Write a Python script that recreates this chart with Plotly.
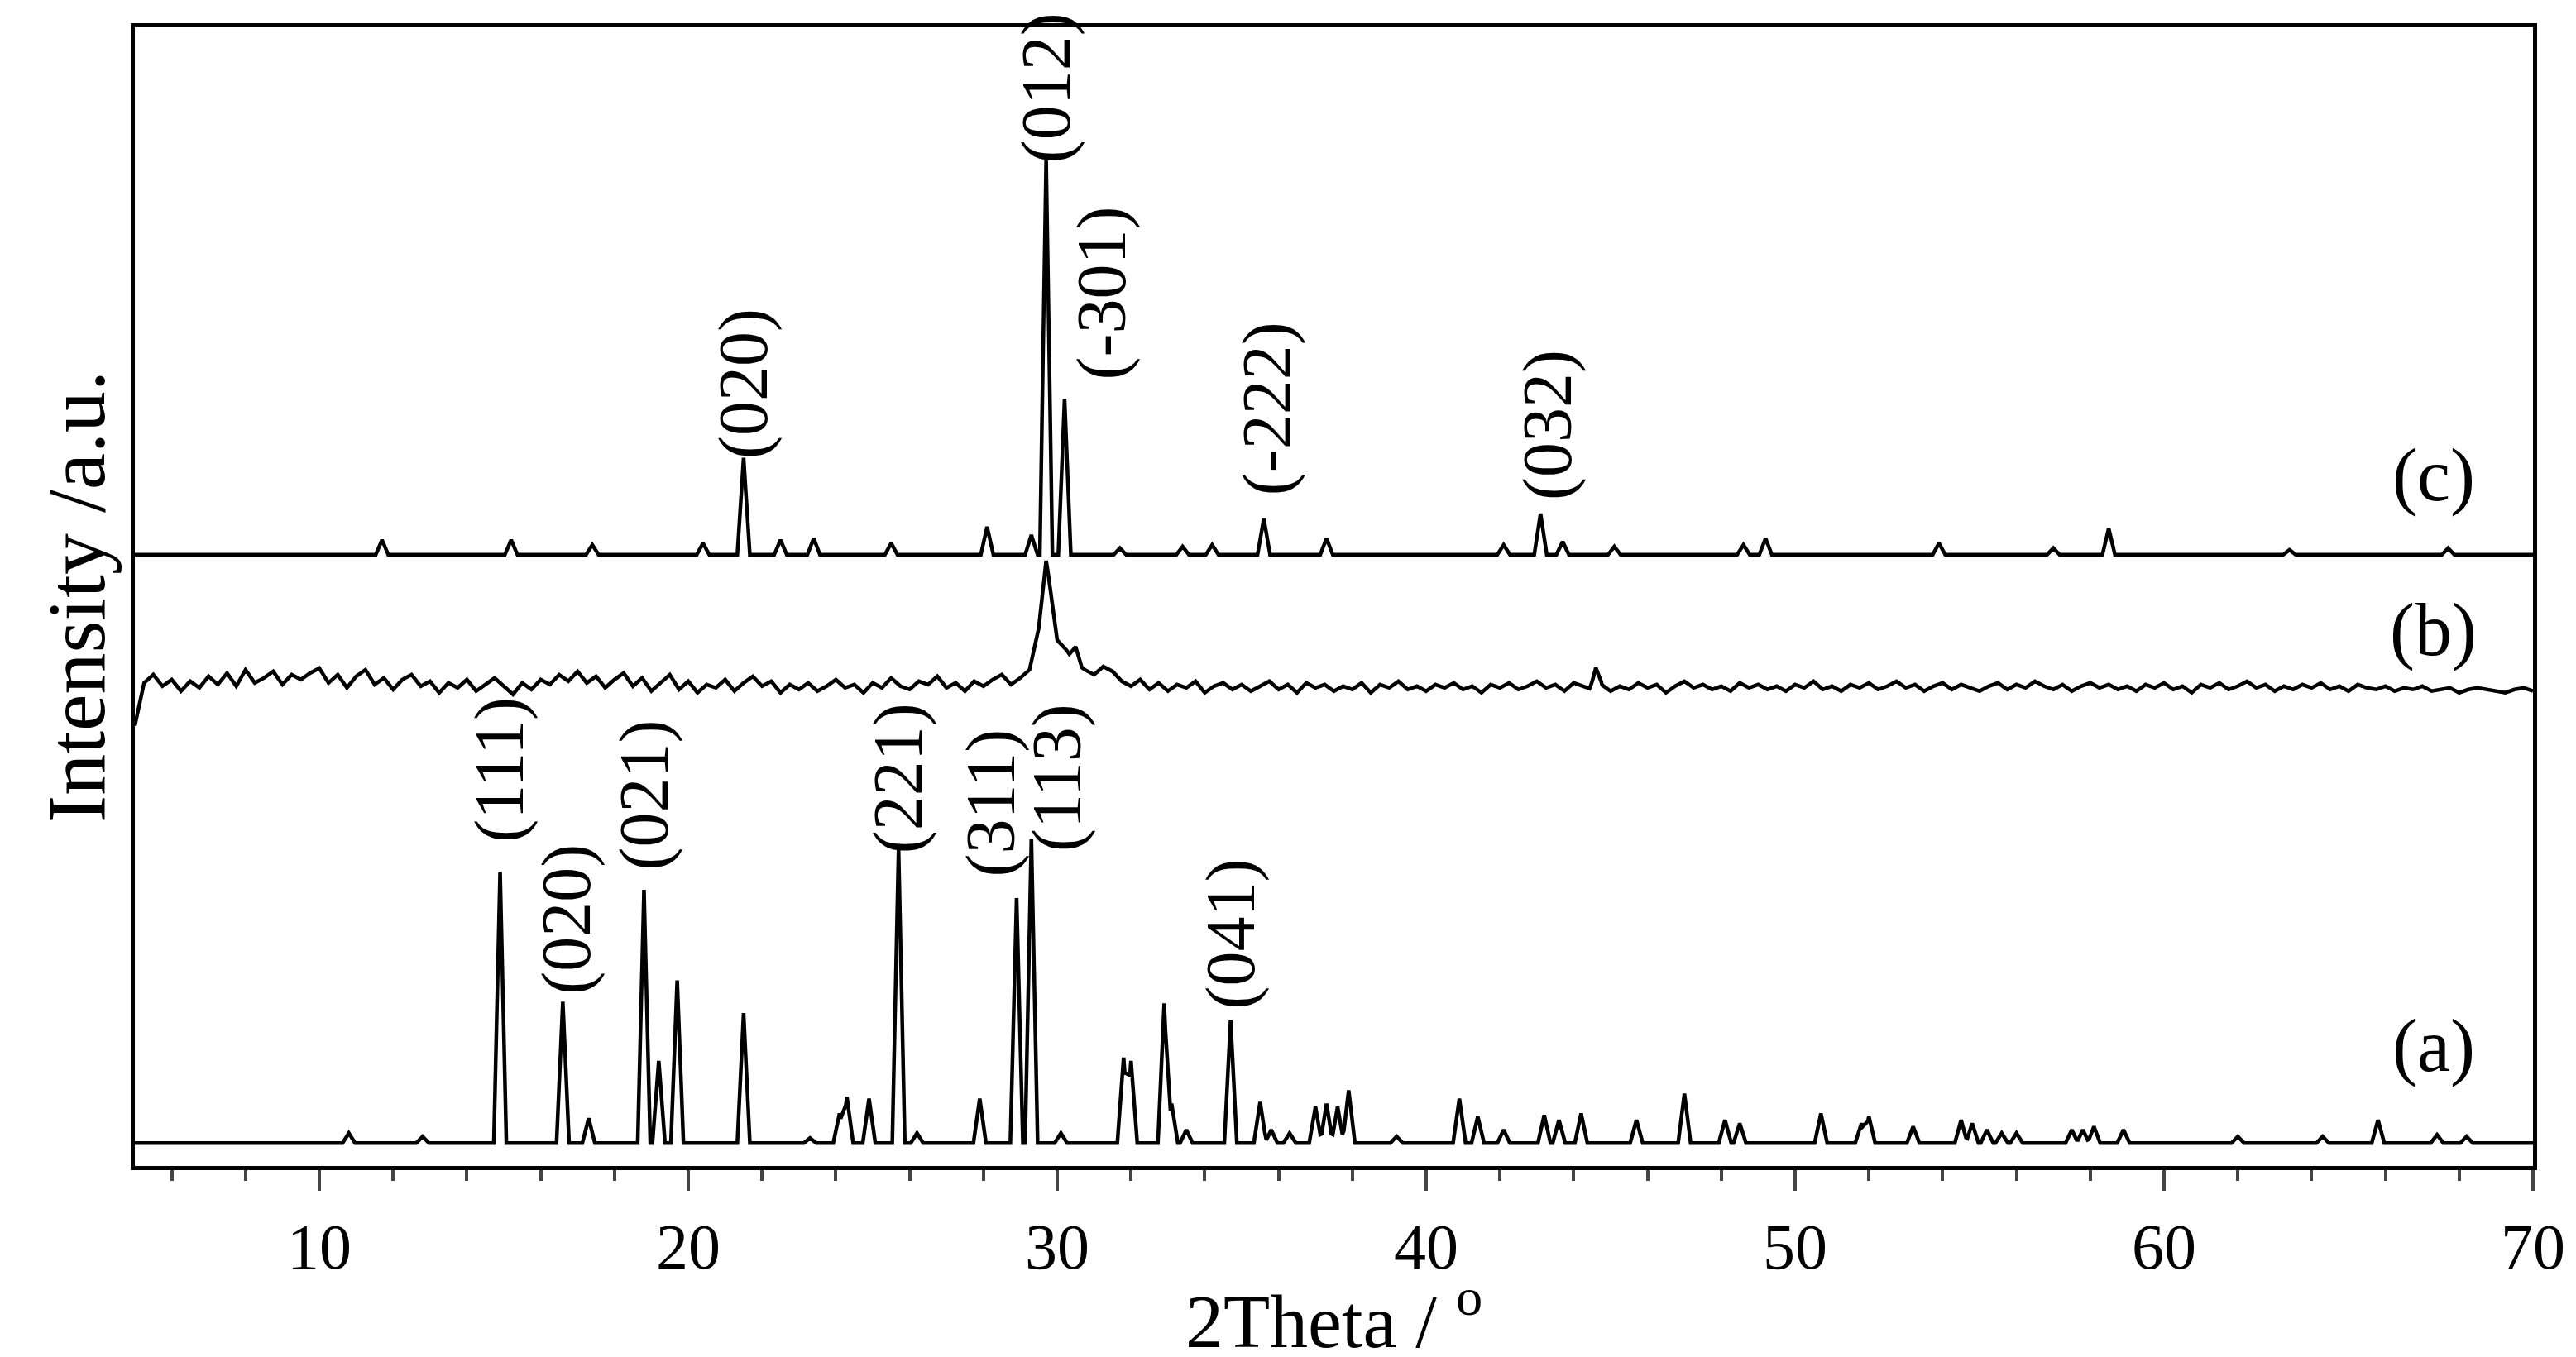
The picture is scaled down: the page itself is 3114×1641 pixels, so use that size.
import numpy as np
import plotly.graph_objects as go

# peak lists: (2theta, height above baseline)
peaks_a = [(10.8, 6), (12.8, 4), (14.9, 165), (16.6, 86), (17.3, 15), (18.8, 154),
           (19.2, 50), (19.7, 99), (21.5, 79), (23.3, 3), (24.1, 18), (24.3, 28),
           (24.9, 27), (25.7, 179), (26.2, 6), (27.9, 27), (28.9, 149), (29.3, 185),
           (30.1, 6), (31.8, 52), (32.0, 50), (32.9, 85), (33.1, 24), (33.5, 8),
           (34.7, 75), (35.5, 25), (35.8, 8), (36.3, 6), (37.0, 22), (37.3, 24),
           (37.6, 22), (37.9, 32), (39.2, 4), (40.9, 27), (41.4, 16), (42.1, 8),
           (43.2, 17), (43.6, 14), (44.2, 18), (45.7, 14), (47.0, 30), (48.1, 14),
           (48.5, 12), (50.7, 18), (51.8, 12), (52.0, 16), (53.2, 10), (54.5, 14),
           (54.8, 12), (55.2, 8), (55.6, 6), (56.0, 6), (57.5, 8), (57.8, 8),
           (58.1, 10), (58.9, 8), (62.0, 4), (64.3, 4), (65.8, 14), (67.4, 5), (68.2, 4)]
peaks_b = [(29.7, 52), (30.5, 10), (44.6, 12)]
peaks_c = [(11.7, 9), (15.2, 9), (17.4, 6), (20.4, 7), (21.5, 59), (22.5, 9),
           (23.4, 10), (25.5, 7), (28.1, 17), (29.3, 12), (29.7, 240), (30.2, 95),
           (31.7, 4), (33.4, 5), (34.2, 6), (35.6, 22), (37.3, 10), (42.1, 6),
           (43.1, 25), (43.7, 8), (45.1, 5), (48.6, 6), (49.2, 10), (53.9, 7),
           (57.0, 4), (58.5, 16), (63.4, 3), (67.7, 4)]

offset_a, offset_b, offset_c = 14, 290, 372

# background of pattern (b), every 0.25 deg from 5 to 70
noise_x = np.arange(5.0, 70.01, 0.25)
noise_b = [-22, 4, 9, 2, 6, -1, 5, 1, 8, 3, 10, 2, 12, 4, 7, 11, 3, 9, 6, 10,
           13, 4, 9, 1, 8, 12, 3, 7, 0, 6, 9, 2, 5, -2, 4, 1, 6, -1, 3, 7,
           2, -3, 4, 0, 6, 3, 9, 5, 11, 4, 8, 1, 6, 10, 2, 7, -1, 4, 9, 0,
           5, -2, 3, 1, 6, -1, 4, 8, 2, 5, -2, 3, 0, 4, -1, 2, 6, 1, 3, -2,
           4, 1, 7, 2, 0, 5, 3, 8, 1, 4, -1, 5, 2, 6, 9, 3, 7, 12, 20, 28,
           30, 24, 16, 12, 9, 14, 11, 5, 2, 6, 0, 4, -1, 3, 1, 5, -2, 2, 4, 0,
           3, -1, 2, 5, 0, 3, -2, 4, 1, 3, -1, 2, 0, 4, -2, 3, 1, 5, 0, 2,
           -1, 3, 1, 4, 0, 2, -2, 3, 1, 4, 0, 2, 5, 1, 3, -1, 4, 2, 0, 3,
           -1, 2, 0, 4, 1, 3, -2, 2, 5, 1, 3, 0, 2, -1, 4, 1, 3, 0, 2, -1,
           3, 1, 5, 0, 2, -1, 3, 1, 4, 0, 2, 5, 1, 3, -1, 2, 4, 0, 3, 1,
           -1, 2, 4, 0, 3, 1, 5, 2, 0, 3, -1, 2, 4, 1, 3, 0, 2, -1, 3, 1,
           4, 0, 2, -2, 3, 1, 4, 0, 2, 5, 1, 3, -1, 2, 0, 3, 1, 4, 0, 2,
           -1, 3, 1, 0, 2, -1, 1, 0, 2, -1, 0, 1, -2, 0, 1, 0, -1, -2, 0, 1,
           -1]

labels_c = [("(020)", 21.5, 476), ("(012)", 29.7, 656), ("(-301)", 31.2, 531),
            ("(-222)", 35.7, 461), ("(032)", 43.3, 451)]
labels_a = [("(111)", 14.9, 241), ("(020)", 16.7, 150), ("(021)", 18.8, 226),
            ("(221)", 25.7, 236), ("(311)", 28.2, 221), ("(113)", 30.0, 236),
            ("(041)", 34.7, 141)]
names = [("(c)", 67.3, 420), ("(b)", 67.3, 326), ("(a)", 67.3, 73)]


def build(peaks, base_x, base_y, offset, w=0.17):
    xs = [base_x[0], base_x[-1]]
    for p, h in peaks:
        xs += [p - w, p, p + w]
    xs = np.unique(np.concatenate([xs, base_x]))
    ys = np.interp(xs, base_x, base_y) + offset
    for p, h in peaks:
        ww = 0.3 if h > 40 and offset == offset_b else w
        ys += np.clip(1 - np.abs(xs - p) / ww, 0, None) * h
    return xs, ys


flat_x = np.array([5.0, 70.0])
flat_y = np.array([0.0, 0.0])

fig = go.Figure()
for pk, bx, by, off in [(peaks_a, flat_x, flat_y, offset_a),
                        (peaks_b, noise_x, noise_b[:len(noise_x)], offset_b),
                        (peaks_c, flat_x, flat_y, offset_c)]:
    x, y = build(pk, bx, np.array(by, dtype=float), off)
    fig.add_trace(go.Scatter(x=x, y=y, mode="lines",
                             line=dict(color="black", width=4.5), showlegend=False))

font = "Liberation Serif"
for txt, x, y in labels_c + labels_a:
    fig.add_annotation(x=x, y=y, text=txt, textangle=-90, showarrow=False,
                       font=dict(family=font, size=84, color="black"))
for txt, x, y in names:
    fig.add_annotation(x=x, y=y, text=txt, showarrow=False,
                       font=dict(family=font, size=90, color="black"))

fig.update_xaxes(range=[5, 70], tickvals=[10, 20, 30, 40, 50, 60, 70],
                 ticks="outside", ticklen=25, tickwidth=4,
                 minor=dict(dtick=2, tick0=0, ticks="outside", ticklen=13, tickwidth=4),
                 showline=True, linewidth=5, linecolor="black", mirror=True,
                 showgrid=False, zeroline=False,
                 tickfont=dict(family=font, size=78, color="black"),
                 title=dict(text="2Theta / <sup>o</sup>", standoff=4,
                            font=dict(family=font, size=92, color="black")))
fig.update_yaxes(range=[0, 693], showticklabels=False, ticks="",
                 showline=True, linewidth=5, linecolor="black", mirror=True,
                 showgrid=False, zeroline=False,
                 title=dict(text="Intensity /a.u.", standoff=0,
                            font=dict(family=font, size=100, color="black")))
fig.update_layout(width=3114, height=1641, plot_bgcolor="white", paper_bgcolor="white",
                  margin=dict(l=155, r=60, t=25, b=239))
fig.write_html("out.html")
